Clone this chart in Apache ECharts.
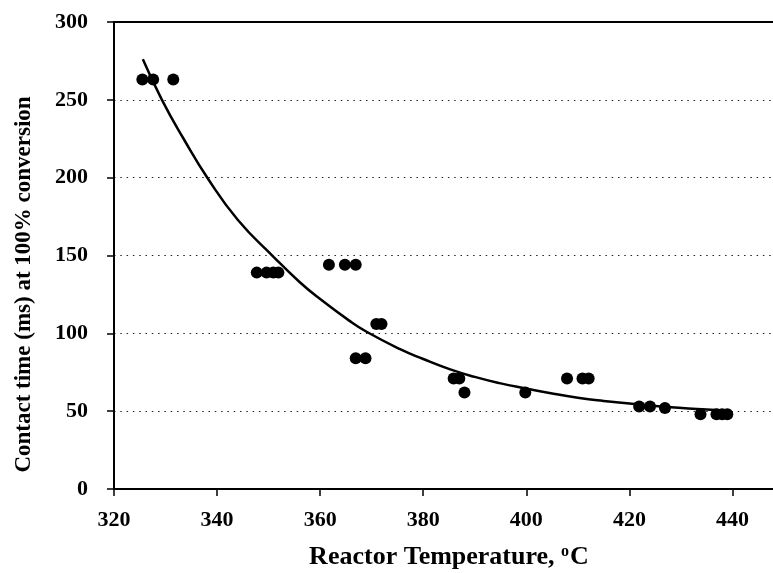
<!DOCTYPE html>
<html>
<head>
<meta charset="utf-8">
<script src="https://cdn.jsdelivr.net/npm/echarts@6/dist/echarts.min.js"></script>
<style>
  html, body { margin: 0; padding: 0; background: #fff; }
  #main { width: 773px; height: 573px; }
</style>
</head>
<body>
<div id="main"></div>
<script>
    // x tick labels / y tick labels
    let xTicks = [320, 340, 360, 380, 400, 420, 440];
    let yTicks = [0, 50, 100, 150, 200, 250, 300];

    // measured points: reactor temperature (oC), contact time (ms)
    let pointTemp = [
        325.5, 327.6, 331.5,
        347.7, 349.6, 350.9, 351.9,
        361.7, 364.8, 366.9,
        366.9, 368.8,
        370.9, 371.9,
        385.9, 387.0, 388.0,
        399.8,
        407.9, 410.9, 412.1,
        421.9, 424.0, 426.9,
        433.8, 436.9, 438.0, 439.0
    ];
    let pointTime = [
        263, 263, 263,
        139, 139, 139, 139,
        144, 144, 144,
        84, 84,
        106, 106,
        71, 71, 62,
        62,
        71, 71, 71,
        53, 53, 52,
        48, 48, 48, 48
    ];

    // fitted curve
    let curveTemp = [325.6, 329.3, 333.5, 338.3, 344, 351, 356, 360, 365.7, 369, 375.4, 380,
        385.1, 390, 394.8, 400, 404.5, 410.3, 415, 420, 425, 429.6, 435, 439.3];
    let curveTime = [276, 250, 225, 199, 173, 149, 133, 122, 108, 101, 90, 83.5,
        77, 72, 68, 64.5, 61.7, 58.5, 56.6, 55, 53.4, 52.2, 51.1, 50.3];

    let font = '"Liberation Serif", "Times New Roman", serif';

    let points = pointTemp.map((t, i) => [t, pointTime[i]]);
    let curve = curveTemp.map((t, i) => [t, curveTime[i]]);

    let chart = echarts.init(document.getElementById('main'));
    chart.setOption({
        animation: false,
        backgroundColor: '#fff',
        grid: {
            left: 114,
            right: -11,
            top: 22,
            bottom: 84,
            outerBoundsMode: 'none',
            containLabel: false
        },
        xAxis: [
            {
                type: 'value',
                min: xTicks[0],
                max: 450,
                interval: 20,
                name: '{b|Reactor Temperature, }{sup|o}{b|C}',
                nameLocation: 'middle',
                nameGap: 55,
                nameTextStyle: {
                    rich: {
                        b: { fontFamily: font, fontWeight: 'bold', fontSize: 26, color: '#000' },
                        sup: { fontFamily: font, fontWeight: 'bold', fontSize: 16, color: '#000', verticalAlign: 'top', padding: [0, 1, 8, 0] }
                    }
                },
                axisLine: { show: true, lineStyle: { color: '#000', width: 2 } },
                axisTick: { show: true, length: 7, lineStyle: { color: '#000', width: 1.5 } },
                axisLabel: {
                    showMaxLabel: false,
                    margin: 20,
                    fontFamily: font,
                    fontWeight: 'bold',
                    fontSize: 22,
                    color: '#000'
                },
                splitLine: { show: false }
            },
            {
                // top frame line
                type: 'value',
                position: 'top',
                min: xTicks[0],
                max: 450,
                axisLine: { show: true, onZero: false, lineStyle: { color: '#000', width: 2 } },
                axisTick: { show: false },
                axisLabel: { show: false },
                splitLine: { show: false }
            }
        ],
        yAxis: {
            type: 'value',
            min: yTicks[0],
            max: yTicks[yTicks.length - 1],
            interval: 50,
            name: 'Contact time (ms) at 100% conversion',
            nameLocation: 'middle',
            nameGap: 78,
            nameTextStyle: {
                fontFamily: font,
                fontWeight: 'bold',
                fontSize: 23,
                color: '#000',
                padding: [0, 58, 0, 0]
            },
            axisLine: { show: true, lineStyle: { color: '#000', width: 2 } },
            axisTick: { show: true, length: 7, lineStyle: { color: '#000', width: 1.5 } },
            axisLabel: {
                margin: 26,
                fontFamily: font,
                fontWeight: 'bold',
                fontSize: 22,
                color: '#000'
            },
            splitLine: {
                show: true,
                lineStyle: { color: '#222', width: 1.2, type: [1.5, 4.8] }
            }
        },
        series: [
            {
                name: 'measured',
                type: 'scatter',
                symbol: 'circle',
                symbolSize: 12,
                itemStyle: { color: '#000', opacity: 1 },
                data: points,
                z: 3
            },
            {
                name: 'fit',
                type: 'line',
                smooth: 0.5,
                showSymbol: false,
                lineStyle: { color: '#000', width: 2.5 },
                data: curve,
                z: 4
            }
        ]
    });
</script>
</body>
</html>
